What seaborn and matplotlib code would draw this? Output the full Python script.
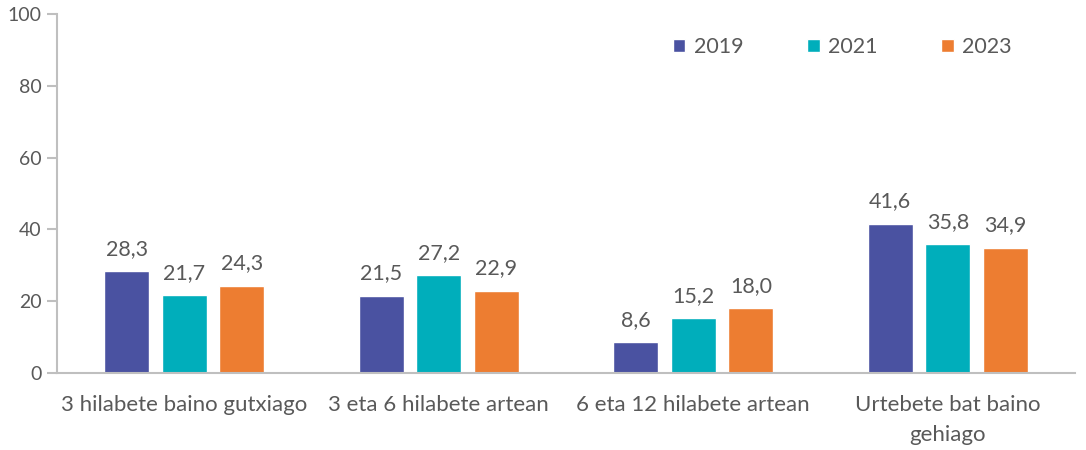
import matplotlib
matplotlib.use("Agg")
import matplotlib.pyplot as plt
import seaborn as sns
import pandas as pd

categories = ["3 hilabete baino gutxiago", "3 eta 6 hilabete artean",
              "6 eta 12 hilabete artean", "Urtebete bat baino\ngehiago"]
years = ["2019", "2021", "2023"]
v2019 = [28.3, 21.5, 8.6, 41.6]
v2021 = [21.7, 27.2, 15.2, 35.8]
v2023 = [24.3, 22.9, 18.0, 34.9]
yticks = [0, 20, 40, 60, 80, 100]
colors = ["#4A52A1", "#00AEBB", "#ED7D31"]

rows = []
for yr, vals in zip(years, [v2019, v2021, v2023]):
    for c, v in zip(categories, vals):
        rows.append({"cat": c, "year": yr, "val": v})
df = pd.DataFrame(rows)

sns.set_theme(style="white")
plt.rcParams['font.family'] = ['Lato', 'DejaVu Sans']
TXT = "#595959"
GRID = "#BFBFBF"

fig = plt.figure(figsize=(10.86, 4.5), dpi=100)
ax = fig.add_axes([0.0525, 0.1711, 0.9374, 0.7978])
sns.barplot(data=df, x="cat", y="val", hue="year", order=categories,
            hue_order=years, palette=colors, saturation=1, width=0.68,
            gap=0.22, ax=ax, errorbar=None)

for cont, vals in zip(ax.containers, [v2019, v2021, v2023]):
    ax.bar_label(cont, labels=[f"{v:.1f}".replace(".", ",") for v in vals],
                 padding=9, fontsize=15.5, color=TXT)

ax.set_xlim(-0.5, 3.5)
ax.set_ylim(0, 100)
ax.set_yticks(yticks)
ax.set_yticklabels([str(t) for t in yticks])
ax.set_xlabel("")
ax.set_ylabel("")
for lbl in ax.get_xticklabels():
    lbl.set_linespacing(1.6)
for s in ["top", "right"]:
    ax.spines[s].set_visible(False)
for s in ["left", "bottom"]:
    ax.spines[s].set_color(GRID)
    ax.spines[s].set_linewidth(1.5)
ax.tick_params(axis="y", length=7, width=1.5, color=GRID, labelcolor=TXT,
               labelsize=14, pad=4, left=True)
ax.tick_params(axis="x", length=0, labelcolor=TXT, labelsize=16, pad=16)

ax.legend(ncol=3, frameon=False, loc="center left",
          bbox_to_anchor=(0.605, 0.908), borderaxespad=0, borderpad=0,
          fontsize=15.5, handlelength=0.58, handleheight=0.58,
          handletextpad=0.4, columnspacing=2.95, labelcolor=TXT)

fig.savefig("out.png", dpi=100)
